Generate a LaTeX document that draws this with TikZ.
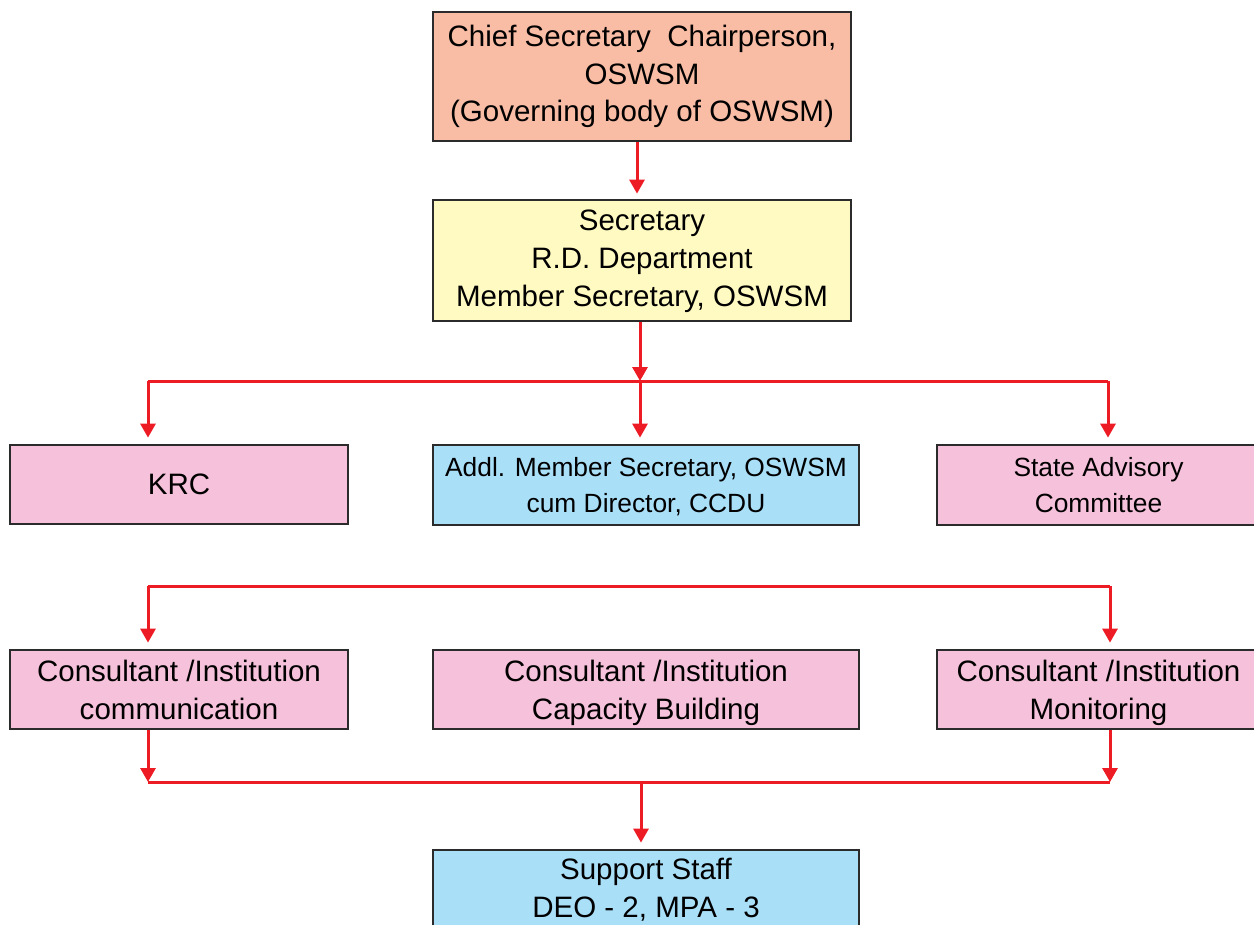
\documentclass[tikz,border=0pt]{standalone}
\usepackage{fontspec}
\setmainfont{Liberation Sans}
\usetikzlibrary{arrows.meta}
\definecolor{boxline}{HTML}{2B2B2B}
\definecolor{linkred}{HTML}{ED1C24}
\definecolor{fillsalmon}{HTML}{F9BDA6}
\definecolor{fillyellow}{HTML}{FFFAC2}
\definecolor{fillpink}{HTML}{F6C1DA}
\definecolor{fillblue}{HTML}{AADFF8}
\begin{document}
\begin{tikzpicture}[x=0.02cm,y=-0.02cm,>={Triangle[width=0.3cm,length=0.28cm]},
	font=\fontsize{16.8}{21.5}\selectfont, line join=miter,
	box/.style={draw=boxline, line width=0.055cm, align=center, inner sep=0pt, text depth=0pt},
	smalltext/.style={font=\fontsize{15}{20.4}\selectfont},
	wire/.style={draw=linkred, line width=0.06cm},
	link/.style={wire, ->, shorten >=0.12cm}]
	\useasboundingbox (0,0) rectangle (1254,924);
	% boxes
	\node[box, fill=fillsalmon, minimum width=8.36cm, minimum height=2.58cm, text depth=0.12cm] (chief) at (642,76.5) {Chief Secretary\ \ Chairperson,\\OSWSM\\(Governing body of OSWSM)};
	\node[box, fill=fillyellow, minimum width=8.36cm, minimum height=2.42cm, text depth=0.1cm] (sec) at (642,260.5) {Secretary\\R.D. Department\\Member Secretary, OSWSM};
	\node[box, fill=fillpink, minimum width=6.76cm, minimum height=1.58cm] (krc) at (179,484.5) {KRC};
	\node[box, smalltext, fill=fillblue, minimum width=8.52cm, minimum height=1.6cm] (addl) at (646,485) {Addl. Member Secretary, OSWSM\\cum Director, CCDU};
	\node[box, smalltext, fill=fillpink, minimum width=6.46cm, minimum height=1.6cm] (sac) at (1098.5,485) {State Advisory\\Committee};
	\node[box, fill=fillpink, minimum width=6.76cm, minimum height=1.58cm] (comm) at (179,689.5) {Consultant /Institution\\communication};
	\node[box, fill=fillpink, minimum width=8.52cm, minimum height=1.58cm] (capb) at (646,689.5) {Consultant /Institution\\Capacity Building};
	\node[box, fill=fillpink, minimum width=6.46cm, minimum height=1.58cm] (moni) at (1098.5,689.5) {Consultant /Institution\\Monitoring};
	\node[box, fill=fillblue, minimum width=8.52cm, minimum height=2.4cm, text depth=0.12cm] (staff) at (646,910) {Support Staff\\DEO - 2, MPA - 3\\};
	% bus points
	\coordinate (l1) at (148,381);
	\coordinate (m1) at (640,381);
	\coordinate (r1) at (1108,381);
	\coordinate (l2) at (148,586);
	\coordinate (r2) at (1110,586);
	\coordinate (l3) at (148,782);
	\coordinate (m3) at (641,782);
	\coordinate (r3) at (1110,782);
	% connectors
	\draw[link, shorten >=0.1cm] (chief.south -| 637,0) -- (sec.north -| 637,0);
	\draw[wire, ->] (sec.south -| m1) -- (m1);
	\draw[wire] (l1) -- (r1);
	\draw[link] (l1) -- (l1 |- krc.north);
	\draw[link] (m1) -- (m1 |- addl.north);
	\draw[link] (r1) -- (r1 |- sac.north);
	\draw[wire] (l2) -- (r2);
	\draw[link] (l2) -- (l2 |- comm.north);
	\draw[link] (r2) -- (r2 |- moni.north);
	\draw[wire, ->] (l3 |- comm.south) -- (l3);
	\draw[wire, ->] (r3 |- moni.south) -- (r3);
	\draw[wire] (l3) -- (r3);
	\draw[link] (m3) -- (m3 |- staff.north);
\end{tikzpicture}
\end{document}
